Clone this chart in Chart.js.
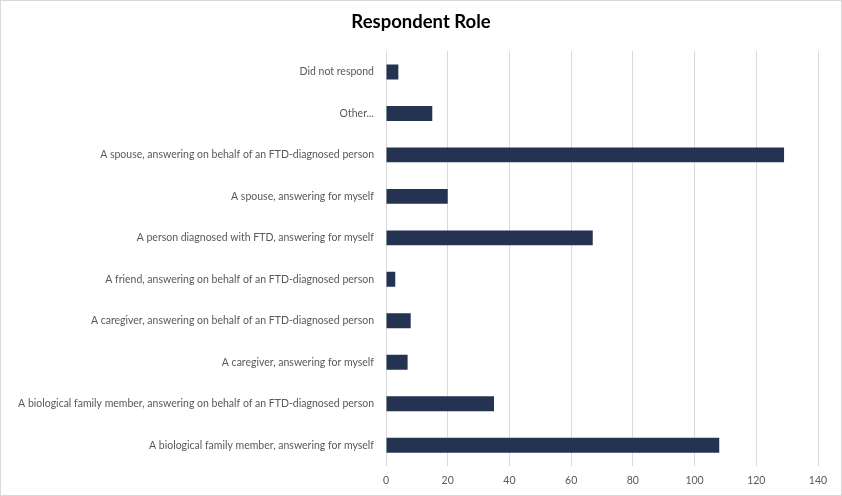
<!DOCTYPE html>
<html>
<head>
<meta charset="utf-8">
<script src="https://cdn.jsdelivr.net/npm/chart.js"></script>
<style>
    html, body { margin: 0; padding: 0; background: #fff; }
    .frame {
        width: 842px; height: 496px; box-sizing: border-box;
        border: 1px solid #d9d9d9; position: relative;
    }
    canvas { display: block; }
</style>
</head>
<body>
<div class="frame">
    <canvas id="roleChart" width="840" height="494"></canvas>
</div>
<script>
// Respondent role survey counts (top to bottom as drawn)
const roles = [
    'Did not respond',
    'Other...',
    'A spouse, answering on behalf of an FTD-diagnosed person',
    'A spouse, answering for myself',
    'A person diagnosed with FTD, answering for myself',
    'A friend, answering on behalf of an FTD-diagnosed person',
    'A caregiver, answering on behalf of an FTD-diagnosed person',
    'A caregiver, answering for myself',
    'A biological family member, answering on behalf of an FTD-diagnosed person',
    'A biological family member, answering for myself'
];
const counts = [4, 15, 129, 20, 67, 3, 8, 7, 35, 108];
const xTicks = [0, 20, 40, 60, 80, 100, 120, 140];

const labelFont = { family: 'Lato, "Noto Sans", sans-serif', size: 10.5 };

const ctx = document.getElementById('roleChart').getContext('2d');
new Chart(ctx, {
    type: 'bar',
    data: {
        labels: roles,
        datasets: [{
            label: 'Respondents',
            data: counts,
            backgroundColor: '#243352',
            borderWidth: 0,
            barPercentage: 0.36,
            categoryPercentage: 1.0
        }]
    },
    options: {
        indexAxis: 'y',
        responsive: false,
        animation: false,
        // equal side padding keeps the title centred on the canvas
        layout: { padding: { top: 10, right: 6, bottom: 6, left: 6 } },
        plugins: {
            legend: { display: false },
            tooltip: { enabled: false },
            title: {
                display: true,
                text: 'Respondent Role',
                color: '#000',
                font: { family: 'Lato, "Noto Sans", sans-serif', size: 18.5, weight: 'bold' },
                padding: { top: 0, bottom: 18 }
            }
        },
        scales: {
            x: {
                min: 0,
                max: xTicks[xTicks.length - 1],
                afterBuildTicks: axis => { axis.ticks = xTicks.map(v => ({ value: v })); },
                afterFit: axis => { axis.height = 23; axis.paddingRight = 23; },
                grid: { color: '#d9d9d9', drawTicks: false },
                border: { display: false },
                ticks: { color: '#595959', font: labelFont, padding: 8 }
            },
            y: {
                afterFit: axis => { axis.width = 379; },
                grid: { display: false, drawTicks: false },
                border: { display: false },
                ticks: { color: '#595959', font: labelFont, padding: 12, autoSkip: false }
            }
        }
    }
});
</script>
</body>
</html>
